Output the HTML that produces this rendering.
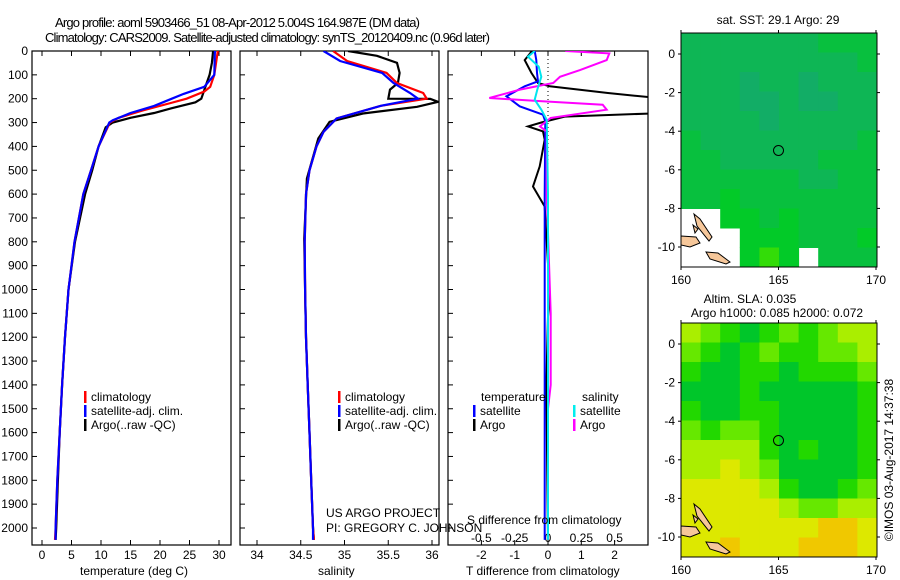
<!DOCTYPE html>
<html><head><meta charset="utf-8"><style>
html,body{margin:0;padding:0;background:#fff;}
svg{display:block;font-family:"Liberation Sans",sans-serif;}
text{font-size:12px;fill:#000;}
</style></head><body>
<svg id="fig" width="900" height="580" viewBox="0 0 900 580" xmlns="http://www.w3.org/2000/svg">
<defs>
<clipPath id="c1"><rect x="32" y="51" width="199" height="494"/></clipPath>
<clipPath id="c2"><rect x="240" y="51" width="199" height="494"/></clipPath>
<clipPath id="c3"><rect x="448" y="51" width="200" height="494"/></clipPath>
</defs>
<text x="55" y="27" style="font-size:13px" textLength="365">Argo profile: aoml 5903466_51 08-Apr-2012 5.004S 164.987E (DM data)</text>
<text x="45" y="42" style="font-size:13px" textLength="445">Climatology: CARS2009. Satellite-adjusted climatology: synTS_20120409.nc (0.96d later)</text>
<g id="g1"></g>
<g id="g2"></g>
<g id="g3"></g>
<g id="m1"></g>
<g id="m2"></g>
<text x="80" y="575">temperature (deg C)</text>
<text x="318" y="575">salinity</text>
<text x="466" y="575">T difference from climatology</text>
<text x="467" y="524">S difference from climatology</text>
<text x="326" y="517">US ARGO PROJECT</text>
<text x="326" y="532">PI: GREGORY C. JOHNSON</text>
<text x="778" y="24" text-anchor="middle">sat. SST: 29.1 Argo: 29</text>
<text x="750" y="303" text-anchor="middle">Altim. SLA: 0.035</text>
<text x="777" y="317" text-anchor="middle">Argo h1000: 0.085 h2000: 0.072</text>
<text transform="translate(893,460) rotate(-90)" text-anchor="middle">©IMOS 03-Aug-2017 14:37:38</text>
</svg>
<script>
const NS='http://www.w3.org/2000/svg';
// ---------- data ----------
const depthTicks=[0,100,200,300,400,500,600,700,800,900,1000,1100,1200,1300,1400,1500,1600,1700,1800,1900,2000];
const tempTicks=[0,5,10,15,20,25,30];
const salTicks=[34,34.5,35,35.5,36];
const tdiffTicks=[-2,-1,0,1,2];
const sdiffTicks=[-0.5,-0.25,0,0.25,0.5];
const argoTDepth=[0,50,100,150,200,215,240,260,280,300,320,400,500,600,800,1000,1200,1400,1600,1800,2000,2050];
const argoT=[29.0,28.8,28.4,27.7,27.0,26.0,22,19,15,12,10.8,9.6,8.5,7.3,5.6,4.5,3.9,3.4,3.0,2.7,2.4,2.3];
const climTDepth=[0,100,150,170,200,220,250,280,300,400,500,600,800,1000,1200,1400,1600,1800,2000,2050];
const climT=[29.8,29.2,28.5,27.5,24.5,21.5,17,13,11.5,9.6,8.3,7.0,5.5,4.5,3.9,3.4,3.0,2.6,2.3,2.2];
const satTDepth=[0,100,150,180,200,230,260,290,300,400,500,600,800,1000,1200,1400,1600,1800,2000,2050];
const satT=[29.3,29.2,27.5,24,22,19,15,12,11.4,9.6,8.3,7.0,5.5,4.5,3.9,3.4,3.0,2.6,2.3,2.3];
const argoSDepth=[0,20,50,92,134,162,200,201,213,234,262,297,367,535,787,1000,1200,1400,1600,1800,2000,2050];
const argoS=[35.04,35.37,35.6,35.63,35.61,35.52,35.5,35.98,36.07,35.83,35.21,34.83,34.70,34.57,34.54,34.55,34.56,34.58,34.6,34.62,34.64,34.65];
const climSDepth=[0,42,92,134,176,200,230,283,339,400,500,600,800,1000,1200,1400,1600,1800,2000,2050];
const climS=[34.87,35.03,35.48,35.6,35.9,35.94,35.41,34.91,34.76,34.68,34.6,34.56,34.545,34.55,34.56,34.58,34.6,34.62,34.64,34.65];
const satSDepth=[0,42,92,134,176,200,230,283,339,400,500,600,800,1000,1200,1400,1600,1800,2000,2050];
const satS=[34.76,34.95,35.43,35.56,35.75,35.84,35.41,34.91,34.76,34.68,34.6,34.56,34.545,34.55,34.56,34.58,34.6,34.62,34.64,34.64];
const dTArgoDepth=[0,38,92,134,148,176,200,230,260,275,300,316,337,372,484,568,652,1016,1114,1400,2050];
const dTArgo=[-0.48,-0.7,-0.5,-0.3,0.05,1.8,3.5,5,3.5,0.5,-0.2,-0.6,-0.15,-0.1,-0.25,-0.45,-0.1,0.05,0.0,-0.05,0.0];
const dTSatDepth=[0,38,92,127,148,190,232,267,295,600,1200,2050];
const dTSat=[-0.4,-0.35,-0.33,-0.3,-0.7,-1.25,-0.85,-0.15,-0.08,-0.1,-0.1,-0.1];
const dSArgoDepth=[0,10,38,80,108,134,162,197,210,225,246,281,316,337,600,1100,1400,1500,2050];
const dSArgo=[0.13,0.46,0.44,0.24,0.09,0.04,-0.21,-0.44,-0.06,0.41,0.44,0.02,-0.06,-0.01,-0.01,0.02,0.02,0.0,0.0];
const dSSatDepth=[0,24,66,108,162,204,246,288,600,2050];
const dSSat=[-0.1,-0.15,-0.07,-0.05,-0.08,-0.1,-0.05,-0.01,0.0,0.0];
const mapLonTicks=[160,165,170];
const mapLatTicks=[0,-2,-4,-6,-8,-10];
const sstPalette=['#12ad66','#0eb655','#08c03e','#02ca28','#33dc08'];
const sstGrid=[
[1,1,1,1,1,1,1,2,2,2],[1,1,1,1,1,1,1,1,1,2],[1,1,1,0,1,1,0,1,1,1],[1,1,1,0,0,1,0,0,1,1],
[1,1,1,1,0,1,1,1,1,1],[2,1,1,1,1,1,1,1,1,2],[2,2,1,1,1,1,1,2,2,2],[2,2,2,2,2,2,1,1,2,2],
[2,2,3,2,2,2,2,2,2,2],[-1,-1,3,3,2,3,2,2,2,2],[-1,-1,-1,3,3,3,2,2,2,3],[-1,-1,-1,3,4,3,-1,2,2,2]];
const slaPalette=['#00c62a','#22d800','#66e800','#aaee00','#dde800','#f0c800'];
const slaGrid=[
[3,2,1,0,1,2,1,2,3,3],[2,1,0,1,2,1,1,2,2,3],[1,0,0,1,1,0,1,1,1,2],[0,0,0,1,0,0,0,0,0,1],
[1,0,0,1,1,0,0,0,0,1],[2,1,2,2,1,0,0,0,0,1],[3,3,3,3,1,0,1,0,0,1],[3,3,4,3,2,0,0,0,0,1],
[4,4,4,4,3,1,0,0,1,2],[4,4,4,4,4,3,2,2,3,3],[4,4,4,4,4,4,4,5,5,4],[4,4,5,4,4,4,5,5,5,4]];

// ---------- helpers ----------
function el(parent,tag,attrs,txt){const e=document.createElementNS(NS,tag);for(const k in attrs)e.setAttribute(k,attrs[k]);if(txt!==undefined)e.textContent=txt;parent.appendChild(e);return e;}
const yD=d=>51+d*0.2385;
const xT=t=>42+t*5.9;
const xS=s=>257+(s-34)*87.5;
const xdT=t=>548+t*33.3;
const xdS=s=>548+s*133.3;
function frame(g,x0,x1){
  const r=el(g,'rect',{x:x0,y:51,width:x1-x0,height:494,fill:'none',stroke:'#000','stroke-width':1.2});
  
  
}
function xticks(g,vals,fx,labelY,fmt){
  vals.forEach(v=>{const x=fx(v);
    el(g,'line',{x1:x,x2:x,y1:51,y2:56,stroke:'#000'});
    el(g,'line',{x1:x,x2:x,y1:545,y2:540,stroke:'#000'});
    if(labelY){const t=el(g,'text',{x:x,y:labelY,'text-anchor':'middle'},fmt?fmt(v):String(v));
      
      }
  });
}
function line(g,clip,xs,ds,fx,color,name,w){
  const pts=xs.map((v,i)=>fx(v).toFixed(1)+','+yD(ds[i]).toFixed(1)).join(' ');
  const p=el(g,'polyline',{points:pts,fill:'none',stroke:color,'stroke-width':w||2,'clip-path':'url(#'+clip+')'});
  
  
}
function legend(g,x,items){
  items.forEach((it,i)=>{const y=401+i*14;
    el(g,'rect',{x:x,y:y-10,width:2.5,height:12,fill:it[0]});
    const t=el(g,'text',{x:x+7,y:y},it[1]);
    
    
  });
}
// ---------- panel 1 ----------
const g1=document.getElementById('g1');
frame(g1,32,231);
depthTicks.forEach(d=>{const y=yD(d);
  el(g1,'line',{x1:32,x2:37,y1:y,y2:y,stroke:'#000'});
  el(g1,'line',{x1:240,x2:245,y1:y,y2:y,stroke:'#000'});
  el(g1,'line',{x1:448,x2:453,y1:y,y2:y,stroke:'#000'});
  const t=el(g1,'text',{x:28,y:y+4,'text-anchor':'end'},String(d));
  
  
});
xticks(g1,tempTicks,xT,559);
line(g1,'c1',argoT,argoTDepth,xT,'#000','argo-temperature-line',2.2);
line(g1,'c1',climT,climTDepth,xT,'#ff0000','clim-temperature-line',2.2);
line(g1,'c1',satT,satTDepth,xT,'#0000ff','sat-temperature-line',2.2);
legend(g1,84,[['#f00','climatology'],['#00f','satellite-adj. clim.'],['#000','Argo(..raw -QC)']]);
// ---------- panel 2 ----------
const g2=document.getElementById('g2');
frame(g2,240,439);
xticks(g2,salTicks,xS,559);
line(g2,'c2',argoS,argoSDepth,xS,'#000','argo-salinity-line',2.2);
line(g2,'c2',climS,climSDepth,xS,'#ff0000','clim-salinity-line',2.2);
line(g2,'c2',satS,satSDepth,xS,'#0000ff','sat-salinity-line',2.2);
legend(g2,338,[['#f00','climatology'],['#00f','satellite-adj. clim.'],['#000','Argo(..raw -QC)']]);
// ---------- panel 3 ----------
const g3=document.getElementById('g3');
frame(g3,448,648);
xticks(g3,tdiffTicks,xdT,559);
sdiffTicks.forEach(v=>{const t=el(g3,'text',{x:xdS(v),y:542,'text-anchor':'middle'},String(v));
  
  });
el(g3,'line',{x1:548,x2:548,y1:51,y2:200,stroke:'#000','stroke-dasharray':'1,3'});
line(g3,'c3',dTArgo,dTArgoDepth,xdT,'#000','argo-t-diff-line',2);
line(g3,'c3',dTSat,dTSatDepth,xdT,'#0000ff','sat-t-diff-line',2);
line(g3,'c3',dSArgo,dSArgoDepth,xdS,'#ff00ff','argo-s-diff-line',2);
line(g3,'c3',dSSat,dSSatDepth,xdS,'#00e5ee','sat-s-diff-line',2);
el(g3,'text',{x:481,y:401},'temperature');
el(g3,'text',{x:582,y:401},'salinity');
legend(g3,473,[['rgba(0,0,0,0)',''],['#00f','satellite'],['#000','Argo']]);
legend(g3,573,[['rgba(0,0,0,0)',''],['#0ee','satellite'],['#f0f','Argo']]);
// ---------- maps ----------
function map(id,top,grid,pal,labelY){
  const g=document.getElementById(id);
  const x0=681,w=196,h=234,lat0=top+21;
  const cw=w/10,ch=h/12;
  el(g,'rect',{x:x0,y:top,width:w,height:h,fill:'#fff'});
  grid.forEach((row,i)=>row.forEach((v,j)=>{
    if(v<0)return;
    const c=el(g,'rect',{x:(x0+j*cw).toFixed(1),y:(top+i*ch).toFixed(1),width:(cw+0.5).toFixed(1),height:(ch+0.5).toFixed(1),fill:pal[v]});
    
    
  }));
  const lx=lon=>x0+(lon-160)*19.5, ly=lat=>lat0-lat*19.3;
  // islands (offsets from map top)
  [[[681,203],[696,204],[700,210],[690,214],[681,212]],
   [[694,181],[700,186],[712,204],[709,208],[697,193]],
   [[706,219],[718,220],[730,229],[726,231],[710,226]],
   [[693,192],[698,196],[695,200]]].forEach(p=>{
    const s=el(g,'polygon',{points:p.map(q=>q[0]+','+(q[1]+top)).join(' '),fill:'#f6c79a',stroke:'#000','stroke-width':1});
    
    
  });
  el(g,'rect',{x:x0,y:top,width:w,height:h,fill:'none',stroke:'#000','stroke-width':1});
  const circ=el(g,'circle',{cx:lx(165),cy:ly(-5),r:5,fill:'none',stroke:'#000'});
  
  
  mapLonTicks.forEach(v=>{const x=lx(v);
    el(g,'line',{x1:x,x2:x,y1:top,y2:top-3,stroke:'#000'});
    el(g,'line',{x1:x,x2:x,y1:top+h,y2:top+h+3,stroke:'#000'});
    const t=el(g,'text',{x:x,y:labelY,'text-anchor':'middle'},String(v));
    
    });
  mapLatTicks.forEach(v=>{const y=ly(v);
    el(g,'line',{x1:x0,x2:x0-3,y1:y,y2:y,stroke:'#000'});
    el(g,'line',{x1:x0+w,x2:x0+w+3,y1:y,y2:y,stroke:'#000'});
    const t=el(g,'text',{x:675,y:y+4,'text-anchor':'end'},String(v));
    
    });
}
map('m1',33,sstGrid,sstPalette,284);
map('m2',323,slaGrid,slaPalette,574);
</script>
</body></html>
